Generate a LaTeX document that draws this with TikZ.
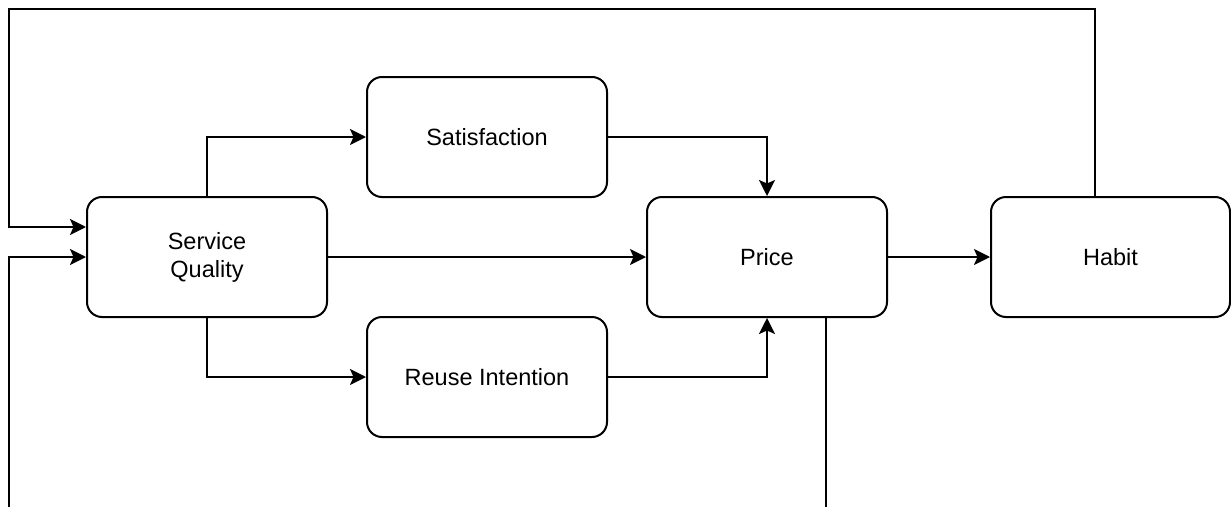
\documentclass[tikz,border=0pt]{standalone}
\usepackage{fontspec}
\setmainfont{Liberation Sans}
\usetikzlibrary{arrows.meta}
\tikzset{
  box/.style={draw=black, line width=2pt, rounded corners=15pt, minimum width=240pt, minimum height=120pt,
    align=center, inner sep=0pt, font=\fontsize{23.5}{28}\selectfont},
  conn/.style={draw=black, line width=2pt, -{Stealth[length=16pt,width=16pt,inset=3.5pt]}},
  plain/.style={draw=black, line width=2pt}
}
\begin{document}
\begin{tikzpicture}[x=1pt,y=-1pt]
\useasboundingbox (0,0) rectangle (1231,506);
\clip (0,0) rectangle (1231,506);
\node[box] (SQ) at (207,257) {Service\\Quality};
\node[box] (S) at (487,137) {Satisfaction};
\node[box] (P) at (767,257) {Price};
\node[box] (R) at (487,377) {Reuse Intention};
\node[box, minimum width=239pt] (H) at (1110.5,257) {Habit};
\coordinate (t1) at (1095,9);
\coordinate (t2) at (9,9);
\coordinate (b1) at (826,545);
\coordinate (b2) at (9,545);
\draw[conn] (SQ.north) |- (S.west);
\draw[conn] (SQ.south) |- (R.west);
\draw[conn] (SQ.east) -- (P.west);
\draw[conn] (S.east) -| (P.north);
\draw[conn] (R.east) -| (P.south);
\draw[conn] (P.east) -- (H.west);
\draw[conn] (H.north -| t1) -- (t1) -- (t2) |- ([yshift=30pt]SQ.west);
\draw[conn] (P.south -| b1) -- (b1) -- (b2) |- (SQ.west);
\end{tikzpicture}
\end{document}
